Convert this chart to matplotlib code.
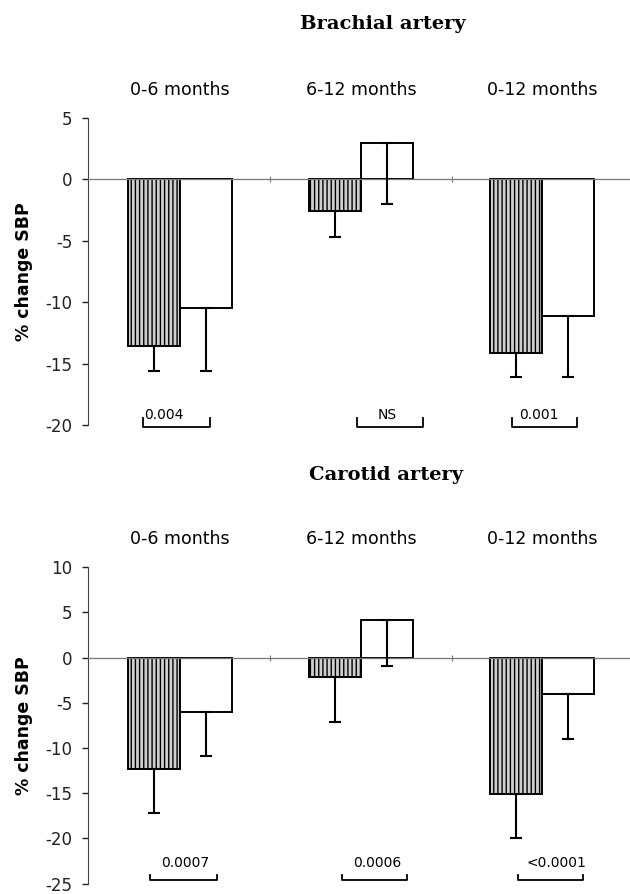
import matplotlib
matplotlib.use("Agg")
from matplotlib import pyplot as plt

periods = ["0-6 months", "6-12 months", "0-12 months"]

# brachial artery, % change SBP (mean, lower error)
brach_hatched = [-13.6, -2.6, -14.1]
brach_hatched_err = [2.0, 2.1, 2.0]
brach_open = [-10.5, 3.0, -11.1]
brach_open_err = [5.1, 5.0, 5.0]
brach_p = ["0.004", "NS", "0.001"]

# carotid artery
carot_hatched = [-12.3, -2.2, -15.1]
carot_hatched_err = [4.9, 4.9, 4.9]
carot_open = [-6.0, 4.2, -4.0]
carot_open_err = [4.9, 5.1, 5.0]
carot_p = ["0.0007", "0.0006", "<0.0001"]

plt.rcParams["font.family"] = "DejaVu Sans"
plt.rcParams["hatch.linewidth"] = 1.0
plt.rcParams["axes.unicode_minus"] = False

W = 0.287


def panel(ax, hatched, hatched_err, opened, opened_err, pvals, ylim, yticks,
          brackets, text_x, br_y, tip_y, txt_y):
    x = range(len(periods))
    xl = [i - W / 2 for i in x]
    xr = [i + W / 2 for i in x]
    ax.bar(xl, hatched, W, facecolor="#cfcfcf", edgecolor="black",
           hatch="||||", linewidth=1.4, zorder=2)
    ax.bar(xr, opened, W, facecolor="white", edgecolor="black",
           linewidth=1.4, zorder=2)
    ax.errorbar(xl, hatched, yerr=[hatched_err, [0] * 3], fmt="none",
                ecolor="black", elinewidth=1.5, capsize=4.5, capthick=1.5,
                zorder=3)
    ax.errorbar(xr, opened, yerr=[opened_err, [0] * 3], fmt="none",
                ecolor="black", elinewidth=1.5, capsize=4.5, capthick=1.5,
                zorder=3)

    ax.set_xlim(-0.508, 2.486)
    ax.set_ylim(*ylim)
    ax.set_yticks(yticks)
    ax.tick_params(axis="y", labelsize=12, length=4, width=1,
                   colors="#222222", pad=7)

    for s in ["top", "right"]:
        ax.spines[s].set_visible(False)
    ax.spines["left"].set_color("#444444")
    ax.spines["bottom"].set_position(("data", 0))
    ax.spines["bottom"].set_color("#777777")
    ax.spines["bottom"].set_linewidth(0.9)
    ax.set_xticks([0.5, 1.5])
    ax.set_xticklabels([])
    ax.tick_params(axis="x", direction="inout", length=4, width=0.8,
                   colors="#777777")

    ax.set_ylabel("% change SBP", fontsize=12.5, fontweight="bold")
    ax.yaxis.set_label_coords(-0.102, 0.5)

    for i, lbl in enumerate(periods):
        ax.annotate(lbl, xy=(i, 1), xycoords=("data", "axes fraction"),
                    xytext=(0, 20), textcoords="offset points",
                    ha="center", va="center", fontsize=12.5)

    for i, (b0, b1) in enumerate(brackets):
        ax.plot([i + b0, i + b0, i + b1, i + b1],
                [tip_y, br_y, br_y, tip_y], color="black", lw=1.3,
                clip_on=False)
        ax.text(i + text_x[i], txt_y, pvals[i], ha="center", va="baseline",
                fontsize=10)


fig = plt.figure(figsize=(6.3, 8.94), dpi=100)
ax1 = fig.add_axes([0.1397, 0.5246, 0.8603, 0.3434])
ax2 = fig.add_axes([0.1397, 0.0115, 0.8603, 0.3542])

panel(ax1, brach_hatched, brach_hatched_err, brach_open, brach_open_err,
      brach_p, (-20, 5), [5, 0, -5, -10, -15, -20],
      [(-0.204, 0.166), (-0.02, 0.34), (-0.166, 0.193)],
      [-0.088, 0.144, -0.017], -20.2, -19.4, -19.55)
panel(ax2, carot_hatched, carot_hatched_err, carot_open, carot_open_err,
      carot_p, (-25, 10), [10, 5, 0, -5, -10, -15, -20, -25],
      [(-0.166, 0.204), (-0.105, 0.254), (-0.133, 0.227)],
      [0.03, 0.09, 0.08], -24.6, -24.0, -23.2)

fig.text(383 / 630, 1 - 24 / 894, "Brachial artery", ha="center",
         va="center", family="DejaVu Serif", fontweight="bold", fontsize=14)
fig.text(386 / 630, 1 - 475 / 894, "Carotid artery", ha="center",
         va="center", family="DejaVu Serif", fontweight="bold", fontsize=14)

fig.savefig("out.png", dpi=100)
